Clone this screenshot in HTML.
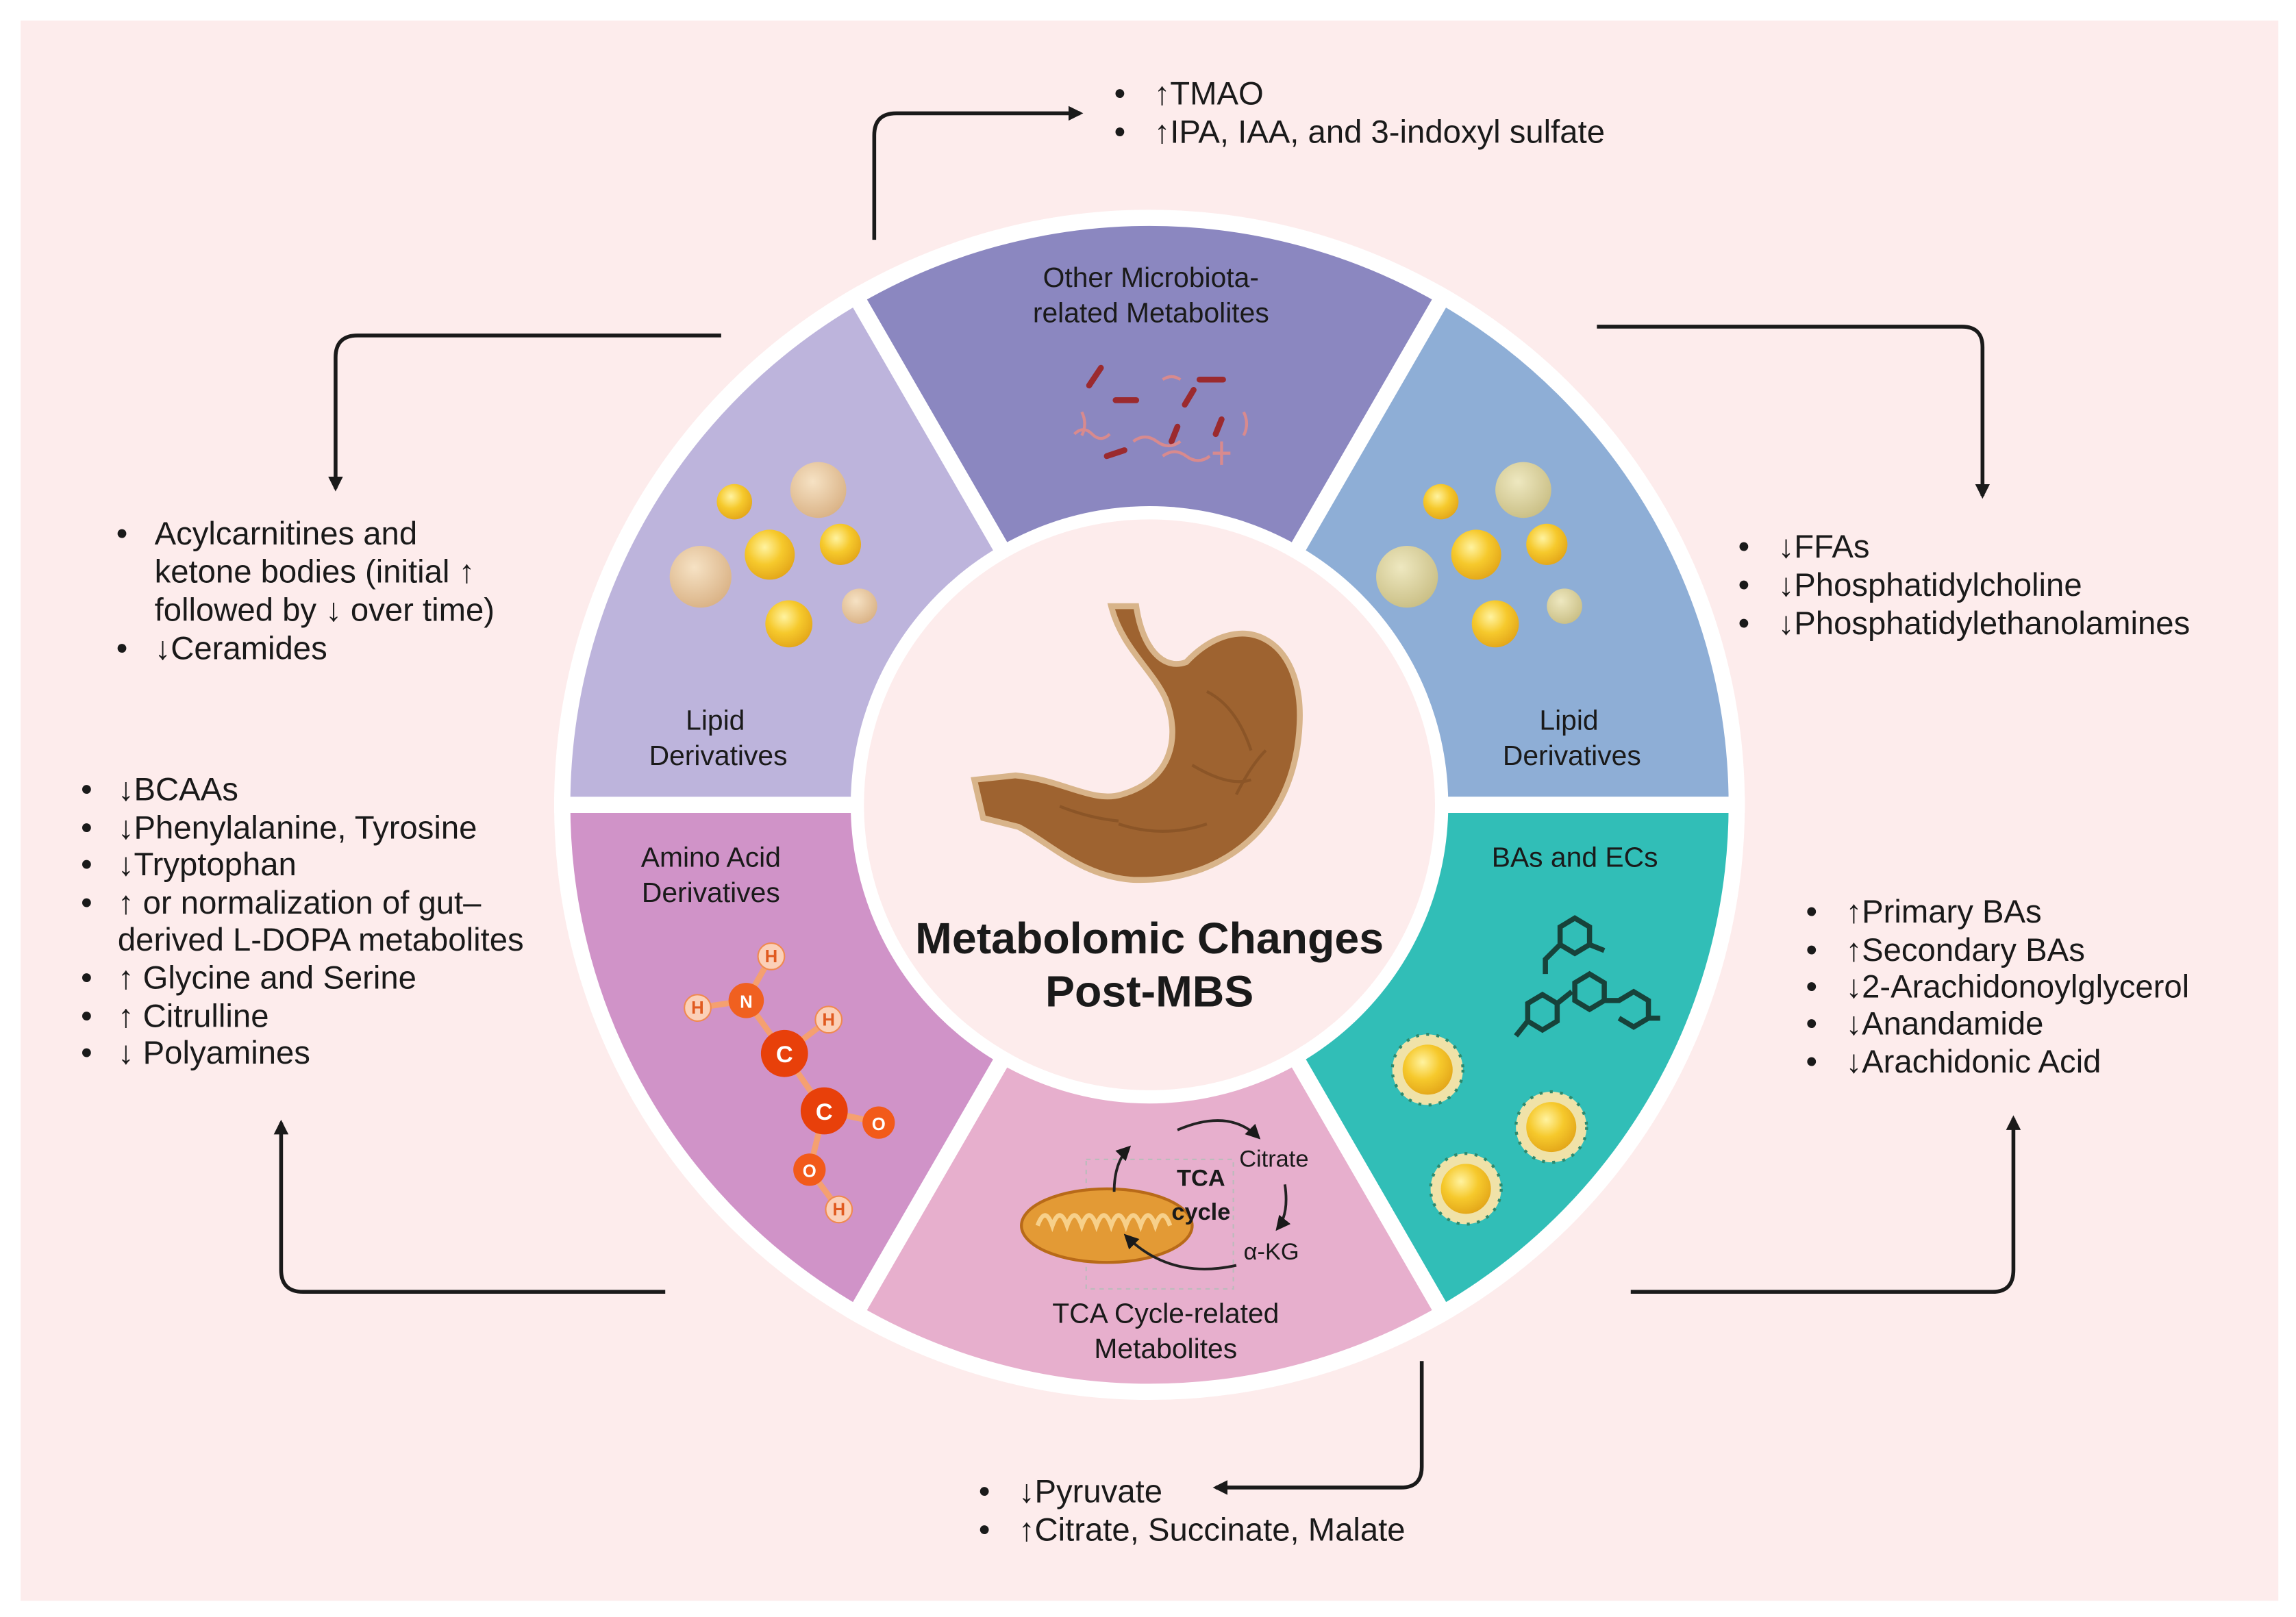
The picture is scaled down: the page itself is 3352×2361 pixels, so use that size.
<!DOCTYPE html>
<html><head><meta charset="utf-8"><style>
html,body{margin:0;padding:0;background:#fff;}
svg{display:block;}
text{font-family:"Liberation Sans",sans-serif;fill:#1a1a1a;}
</style></head><body>
<svg width="3352" height="2361" viewBox="0 0 1560 1099" preserveAspectRatio="none" xmlns="http://www.w3.org/2000/svg">
<defs>
<marker id="ah" markerWidth="10" markerHeight="10" refX="8" refY="5" orient="auto" markerUnits="userSpaceOnUse"><path d="M0,0 L10,5 L0,10 Z" fill="#1a1a1a"/></marker>
<radialGradient id="yel" cx="0.4" cy="0.35" r="0.7"><stop offset="0" stop-color="#fff3a0"/><stop offset="0.5" stop-color="#f6c92c"/><stop offset="1" stop-color="#e2a418"/></radialGradient>
<radialGradient id="tan" cx="0.4" cy="0.35" r="0.7"><stop offset="0" stop-color="#f6e2c4"/><stop offset="1" stop-color="#d9b184"/></radialGradient>
<radialGradient id="olv" cx="0.4" cy="0.35" r="0.7"><stop offset="0" stop-color="#eee8c0"/><stop offset="1" stop-color="#c9be84"/></radialGradient>
</defs>
<rect x="0" y="0" width="1560" height="1099" fill="#fff"/>
<rect x="14" y="14" width="1534" height="1074" fill="#fdecec"/>

<!-- ring -->
<circle cx="781" cy="547" r="402" fill="#fff"/>
<g stroke="#fff" stroke-width="11">
<path d="M781,547 L581.5,201.5 A399,399 0 0 1 980.5,201.5 Z" fill="#8b87c0"/>
<path d="M781,547 L980.5,201.5 A399,399 0 0 1 1180,547 Z" fill="#8eaed6"/>
<path d="M781,547 L1180,547 A399,399 0 0 1 980.5,892.5 Z" fill="#31beb7"/>
<path d="M781,547 L980.5,892.5 A399,399 0 0 1 581.5,892.5 Z" fill="#e7afcd"/>
<path d="M781,547 L581.5,892.5 A399,399 0 0 1 382,547 Z" fill="#d093c8"/>
<path d="M781,547 L382,547 A399,399 0 0 1 581.5,201.5 Z" fill="#bdb4dc"/>
</g>
<circle cx="781" cy="547" r="203" fill="#fff"/>
<circle cx="781" cy="547" r="194" fill="#fdecec"/>

<!-- stomach -->
<path d="M755,412 L772,412 C776,440 790,456 806,450 C842,412 886,432 883,492 C880,562 830,600 770,598 C735,596 712,572 692,562 L668,556 L662,530 L690,527 C722,530 742,546 762,540 C797,530 802,500 792,475 C783,455 762,440 755,412 Z" fill="#9e6330" stroke="#d8b48a" stroke-width="4"/>
<g stroke="#7f4c22" stroke-width="2" fill="none" opacity="0.6">
<path d="M820,470 q20,10 30,40"/><path d="M810,520 q25,15 40,10"/><path d="M760,560 q30,10 60,0"/><path d="M720,548 q20,8 40,10"/><path d="M840,540 q10,-20 20,-30"/>
</g>

<text x="781" y="648" font-size="30" font-weight="bold" text-anchor="middle">Metabolomic Changes</text>
<text x="781" y="684" font-size="30" font-weight="bold" text-anchor="middle">Post-MBS</text>

<!-- sector labels -->
<g font-size="19" text-anchor="middle">
<text x="782" y="195">Other Microbiota-</text><text x="782" y="219">related Metabolites</text>
<text x="486" y="496">Lipid</text><text x="488" y="520">Derivatives</text>
<text x="1066" y="496">Lipid</text><text x="1068" y="520">Derivatives</text>
<text x="483" y="589">Amino Acid</text><text x="483" y="613">Derivatives</text>
<text x="1070" y="589">BAs and ECs</text>
<text x="792" y="899">TCA Cycle-related</text><text x="792" y="923">Metabolites</text>
</g>

<!-- bacteria -->
<g stroke="#9b2a2e" stroke-width="4" stroke-linecap="round" fill="none">
<path d="M740,262 l8,-12"/><path d="M758,272 l14,0"/><path d="M805,275 l6,-10"/><path d="M815,258 l16,0"/><path d="M826,295 l4,-10"/><path d="M752,310 l12,-4"/><path d="M800,290 l-4,10"/>
</g>
<g stroke="#d88a8e" stroke-width="2" fill="none">
<path d="M770,300 q8,-6 16,0 t16,0"/><path d="M730,295 q6,-6 12,0 t12,0"/><path d="M790,310 q8,-6 16,0 t16,0"/><path d="M735,280 q4,8 0,16"/><path d="M845,280 q4,8 0,16"/><path d="M790,258 q6,-4 12,0"/><path d="M830,300 l0,16 M824,308 l12,0"/>
</g>

<!-- left droplets -->
<circle cx="499" cy="341" r="12" fill="url(#yel)"/>
<circle cx="556" cy="333" r="19" fill="url(#tan)"/>
<circle cx="523" cy="377" r="17" fill="url(#yel)"/>
<circle cx="571" cy="370" r="14" fill="url(#yel)"/>
<circle cx="476" cy="392" r="21" fill="url(#tan)"/>
<circle cx="536" cy="424" r="16" fill="url(#yel)"/>
<circle cx="584" cy="412" r="12" fill="url(#tan)"/>
<!-- right droplets -->
<circle cx="979" cy="341" r="12" fill="url(#yel)"/>
<circle cx="1035" cy="333" r="19" fill="url(#olv)"/>
<circle cx="1003" cy="377" r="17" fill="url(#yel)"/>
<circle cx="1051" cy="370" r="14" fill="url(#yel)"/>
<circle cx="956" cy="392" r="21" fill="url(#olv)"/>
<circle cx="1016" cy="424" r="16" fill="url(#yel)"/>
<circle cx="1063" cy="412" r="12" fill="url(#olv)"/>

<!-- BA molecules -->
<g stroke="#17423a" stroke-width="3.5" fill="none">
<path d="M1060,630 l10,-6 l10,6 l0,12 l-10,6 l-10,-6 Z M1060,642 l-10,10 l0,10 M1080,642 l10,4"/>
<path d="M1070,668 l10,-6 l10,6 l0,12 l-10,6 l-10,-6 Z M1090,680 l10,0 l10,-6 l10,6 l0,12 l-10,6 l-10,-6 M1120,692 l8,0"/>
<path d="M1038,682 l10,-6 l10,6 l0,12 l-10,6 l-10,-6 Z M1038,694 l-8,10 M1058,682 l10,-8"/>
</g>
<g>
<circle cx="970" cy="727" r="24" fill="#f0e2a8" stroke="#2d8a6e" stroke-width="2" stroke-dasharray="2 5"/><circle cx="970" cy="727" r="17" fill="url(#yel)"/>
<circle cx="1054" cy="766" r="24" fill="#f0e2a8" stroke="#2d8a6e" stroke-width="2" stroke-dasharray="2 5"/><circle cx="1054" cy="766" r="17" fill="url(#yel)"/>
<circle cx="996" cy="808" r="24" fill="#f0e2a8" stroke="#2d8a6e" stroke-width="2" stroke-dasharray="2 5"/><circle cx="996" cy="808" r="17" fill="url(#yel)"/>
</g>

<!-- amino acid molecule -->
<g stroke="#f5a070" stroke-width="4" fill="none"><path d="M524,650 L507,680 L474,685 M507,680 L533,716 L563,693 M533,716 L560,755 L597,763 M560,755 L550,795 L570,822"/></g>
<g font-size="12" text-anchor="middle" font-weight="bold">
<circle cx="524" cy="650" r="9" fill="#fbd0b8" stroke="#f08a50"/><text x="524" y="654" style="fill:#e05a20">H</text>
<circle cx="474" cy="685" r="9" fill="#fbd0b8" stroke="#f08a50"/><text x="474" y="689" style="fill:#e05a20">H</text>
<circle cx="507" cy="680" r="12" fill="#f06020"/><text x="507" y="685" style="fill:#fff">N</text>
<circle cx="563" cy="693" r="9" fill="#fbd0b8" stroke="#f08a50"/><text x="563" y="697" style="fill:#e05a20">H</text>
<circle cx="533" cy="716" r="16" fill="#e8400a"/><text x="533" y="722" font-size="16" style="fill:#fff">C</text>
<circle cx="560" cy="755" r="16" fill="#e8400a"/><text x="560" y="761" font-size="16" style="fill:#fff">C</text>
<circle cx="597" cy="763" r="11" fill="#f25a1a"/><text x="597" y="768" style="fill:#fff">O</text>
<circle cx="550" cy="795" r="11" fill="#f25a1a"/><text x="550" y="800" style="fill:#fff">O</text>
<circle cx="570" cy="822" r="9" fill="#fbd0b8" stroke="#f08a50"/><text x="570" y="826" style="fill:#e05a20">H</text>
</g>

<!-- mitochondria / TCA -->
<rect x="738" y="788" width="100" height="88" fill="none" stroke="#bbb" stroke-dasharray="3 3"/>
<ellipse cx="752" cy="833" rx="58" ry="25" fill="#e39a35" stroke="#b86a18" stroke-width="2"/>
<path d="M705,833 q5,-14 10,0 q5,-14 10,0 q5,-14 10,0 q5,-14 10,0 q5,-14 10,0 q5,-14 10,0 q5,-14 10,0 q5,-14 10,0 q5,-14 10,0" stroke="#f7d08a" stroke-width="3" fill="none"/>
<g stroke="#222" stroke-width="1.8" fill="none">
<path d="M800,768 q35,-15 55,5" marker-end="url(#ah)"/>
<path d="M873,805 q3,20 -5,30" marker-end="url(#ah)"/>
<path d="M840,860 q-45,10 -75,-20" marker-end="url(#ah)"/>
<path d="M757,810 q0,-20 10,-30" marker-end="url(#ah)"/>
</g>
<text x="816" y="806" font-size="16" font-weight="bold" text-anchor="middle">TCA</text>
<text x="816" y="829" font-size="16" font-weight="bold" text-anchor="middle">cycle</text>
<text x="842" y="793" font-size="16">Citrate</text>
<text x="845" y="856" font-size="16">α-KG</text>

<!-- connectors -->
<g stroke="#1a1a1a" stroke-width="2.6" fill="none" marker-end="url(#ah)">
<path d="M594,163 V92 Q594,77 609,77 H734"/>
<path d="M490,228 H243 Q228,228 228,243 V332"/>
<path d="M1085,222 H1333 Q1347,222 1347,236 V337"/>
<path d="M452,878 H206 Q191,878 191,863 V763"/>
<path d="M1108,878 H1354 Q1368,878 1368,863 V760"/>
<path d="M966,925 V997 Q966,1011 952,1011 H826"/>
</g>

<!-- lists -->
<g font-size="22">
<text x="757" y="71">•</text><text x="784" y="71">↑TMAO</text>
<text x="757" y="97">•</text><text x="784" y="97">↑IPA, IAA, and 3-indoxyl sulfate</text>

<text x="79" y="370">•</text><text x="105" y="370">Acylcarnitines and</text>
<text x="105" y="396">ketone bodies (initial ↑</text>
<text x="105" y="422">followed by ↓ over time)</text>
<text x="79" y="448">•</text><text x="105" y="448">↓Ceramides</text>

<text x="1181" y="379">•</text><text x="1208" y="379">↓FFAs</text>
<text x="1181" y="405">•</text><text x="1208" y="405">↓Phosphatidylcholine</text>
<text x="1181" y="431">•</text><text x="1208" y="431">↓Phosphatidylethanolamines</text>

<text x="55" y="544">•</text><text x="80" y="544">↓BCAAs</text>
<text x="55" y="570">•</text><text x="80" y="570">↓Phenylalanine, Tyrosine</text>
<text x="55" y="595">•</text><text x="80" y="595">↓Tryptophan</text>
<text x="55" y="621">•</text><text x="80" y="621">↑ or normalization of gut–</text>
<text x="80" y="646">derived L-DOPA metabolites</text>
<text x="55" y="672">•</text><text x="80" y="672">↑ Glycine and Serine</text>
<text x="55" y="698">•</text><text x="80" y="698">↑ Citrulline</text>
<text x="55" y="723">•</text><text x="80" y="723">↓ Polyamines</text>

<text x="1227" y="627">•</text><text x="1254" y="627">↑Primary BAs</text>
<text x="1227" y="653">•</text><text x="1254" y="653">↑Secondary BAs</text>
<text x="1227" y="678">•</text><text x="1254" y="678">↓2-Arachidonoylglycerol</text>
<text x="1227" y="703">•</text><text x="1254" y="703">↓Anandamide</text>
<text x="1227" y="729">•</text><text x="1254" y="729">↓Arachidonic Acid</text>

<text x="665" y="1021">•</text><text x="692" y="1021">↓Pyruvate</text>
<text x="665" y="1047">•</text><text x="692" y="1047">↑Citrate, Succinate, Malate</text>
</g>
</svg>
</body></html>
